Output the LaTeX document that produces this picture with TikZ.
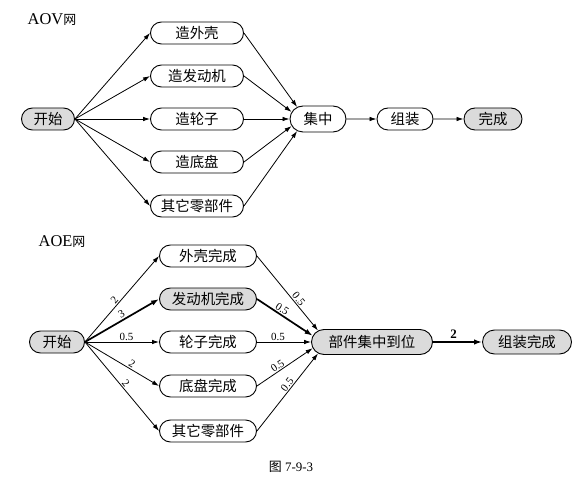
\documentclass[tikz,border=0pt]{standalone}
\usepackage{fontspec}
\setmainfont{Liberation Serif}
\newfontfamily\cjk{Noto Sans CJK SC}
\usetikzlibrary{shapes.misc,arrows.meta}
\begin{document}
\begin{tikzpicture}[x=1bp,y=-1bp,
 box/.style={rounded rectangle, draw, line width=0.9bp, minimum height=22bp, inner sep=0pt, font=\cjk\fontsize{14.5}{14.5}\selectfont},
 gbox/.style={box, fill=black!14},
 arr/.style={line width=0.8bp, -{Latex[length=7bp,width=4.5bp]}},
 thk/.style={line width=1.7bp, -{Latex[length=8bp,width=5.5bp]}},
 lab/.style={font=\fontsize{11}{11}\selectfont, inner sep=1bp, sloped, above},
 ttl/.style={font=\fontsize{16.5}{16.5}\selectfont, inner sep=0pt},
]
\useasboundingbox[fill=white] (0,0) rectangle (587,481);

% ---------- AOV ----------
\node[ttl] (aov) at (52,20) {AOV{\cjk\fontsize{13}{13}\selectfont 网}};
\node[gbox, minimum width=53bp] (s1) at (48,119) {开始};
\node[box, minimum width=93bp] (a1) at (197,33) {造外壳};
\node[box, minimum width=93bp] (a2) at (197,76) {造发动机};
\node[box, minimum width=93bp] (a3) at (197,119) {造轮子};
\node[box, minimum width=93bp] (a4) at (197,162) {造底盘};
\node[box, minimum width=93bp] (a5) at (197,206) {其它零部件};
\node[box, minimum width=56bp, minimum height=26bp] (jz) at (318,119) {集中};
\node[box, minimum width=56bp] (zz) at (405,119) {组装};
\node[gbox, minimum width=58bp] (wc) at (493,119) {完成};
\foreach \i/\a in {1/150,2/165,3/180,4/195,5/210}{
  \draw[arr] (s1.east) -- (a\i.west);
  \draw[arr] (a\i.east) -- (jz.\a);
}
\draw[arr] (jz) -- (zz);
\draw[arr] (zz) -- (wc);

% ---------- AOE ----------
\node[ttl] (aoe) at (62,242) {AOE{\cjk\fontsize{13}{13}\selectfont 网}};
\node[gbox, minimum width=55bp] (s2) at (57,342) {开始};
\node[box, minimum width=97bp] (b1) at (208,256) {外壳完成};
\node[gbox, minimum width=97bp] (b2) at (208,299) {发动机完成};
\node[box, minimum width=97bp] (b3) at (208,342) {轮子完成};
\node[box, minimum width=97bp] (b4) at (208,386) {底盘完成};
\node[box, minimum width=97bp] (b5) at (208,431) {其它零部件};
\node[gbox, minimum width=121bp, minimum height=25bp] (bj) at (372,342) {部件集中到位};
\node[gbox, minimum width=89bp, minimum height=24bp] (zw) at (527,342) {组装完成};

\draw[arr] (s2.east) -- node[lab, pos=0.45] {2} (b1.west);
\draw[thk] (s2.east) -- node[lab, pos=0.53] {3} (b2.west);
\draw[arr] (s2.east) -- node[lab, pos=0.56] {0.5} (b3.west);
\draw[arr] (s2.east) -- node[lab, pos=0.6] {2} (b4.west);
\draw[arr] (s2.east) -- node[lab, pos=0.5] {2} (b5.west);

\draw[arr] (b1.east) -- node[lab, pos=0.62] {0.5} (bj.168);
\draw[thk] (b2.east) -- node[lab, pos=0.4] {0.5} (bj.174);
\draw[arr] (b3.east) -- node[lab, pos=0.39] {0.5} (bj.180);
\draw[arr] (b4.east) -- node[lab, pos=0.42] {0.5} (bj.186);
\draw[arr] (b5.east) -- node[lab, pos=0.56] {0.5} (bj.192);

\draw[thk] (bj) -- node[above, font=\bfseries\fontsize{13}{13}\selectfont, inner sep=3bp, xshift=-4bp] {2} (zw);

\node[font=\fontsize{13}{13}\selectfont] (cap) at (291,467) {{\cjk 图} 7-9-3};
\end{tikzpicture}
\end{document}
